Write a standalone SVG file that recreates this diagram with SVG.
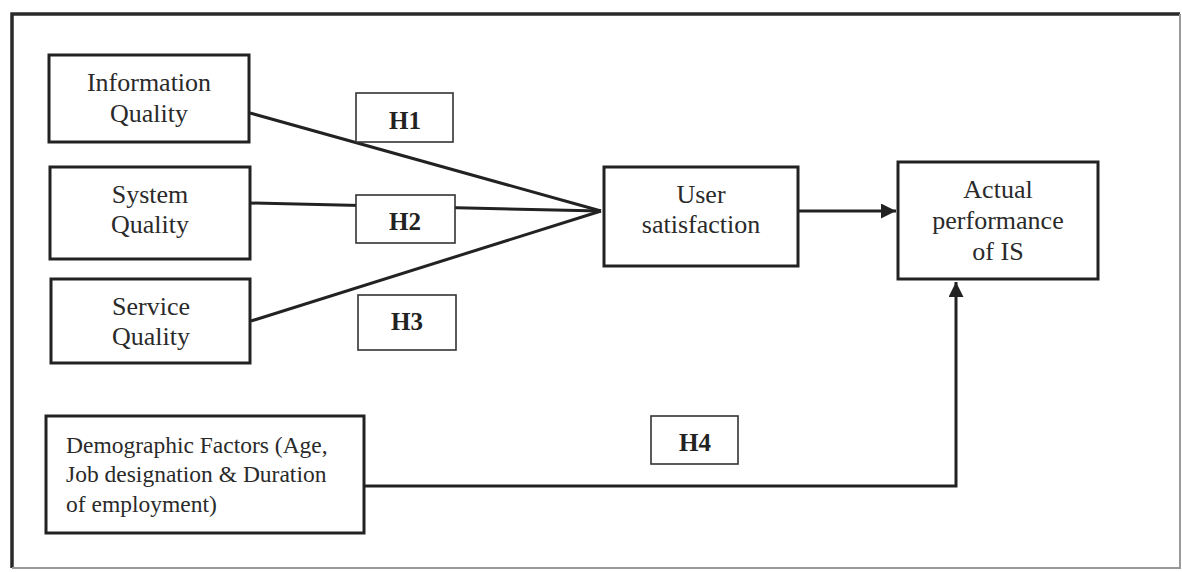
<svg xmlns="http://www.w3.org/2000/svg" width="1182" height="572" viewBox="0 0 1182 572">
<style>
.box{fill:#fff;stroke:#222;stroke-width:3}
.hbox{fill:#fff;stroke:#333;stroke-width:1.6}
.t{font-family:"Liberation Serif",serif;font-size:26px;fill:#2a2a2a;text-anchor:middle}
.tl{font-family:"Liberation Serif",serif;font-size:23.5px;fill:#2a2a2a}
.h{font-family:"Liberation Serif",serif;font-size:25px;font-weight:bold;fill:#222;text-anchor:middle}
.ln{fill:none;stroke:#222;stroke-width:3}
</style>
<defs>
<marker id="ah" viewBox="0 0 10 10" refX="10" refY="5" markerWidth="5" markerHeight="5" orient="auto" markerUnits="strokeWidth">
<path d="M0,0 L10,5 L0,10 z" fill="#222"/>
</marker>
</defs>
<rect x="0" y="0" width="1182" height="572" fill="#fff"/>
<g id="frame">
<path d="M12,568 V14 H1180" fill="none" stroke="#2a2a2a" stroke-width="3.5"/>
<path d="M1180,14 V568 H12" fill="none" stroke="#999" stroke-width="2"/>
</g>
<g id="connectors">
<line class="ln" x1="250" y1="113" x2="601" y2="211"/>
<line class="ln" x1="250" y1="203" x2="601" y2="211"/>
<line class="ln" x1="251" y1="321" x2="601" y2="211"/>
<line class="ln" x1="798" y1="211" x2="896" y2="211" marker-end="url(#ah)"/>
<polyline class="ln" points="364,486 956,486 956,282" marker-end="url(#ah)"/>
</g>
<g id="info-quality">
<rect class="box" x="49" y="55" width="200" height="87"/>
<text class="t" x="149" y="91">Information</text>
<text class="t" x="149" y="122">Quality</text>
</g>
<g id="system-quality">
<rect class="box" x="50" y="167" width="200" height="92"/>
<text class="t" x="150" y="203">System</text>
<text class="t" x="150" y="233">Quality</text>
</g>
<g id="service-quality">
<rect class="box" x="51" y="279" width="199" height="84"/>
<text class="t" x="151" y="315">Service</text>
<text class="t" x="151" y="345">Quality</text>
</g>
<g id="h1">
<rect class="hbox" x="356" y="93" width="97" height="49"/>
<text class="h" x="405" y="129">H1</text>
</g>
<g id="h2">
<rect class="hbox" x="356" y="195" width="99" height="48"/>
<text class="h" x="405" y="230">H2</text>
</g>
<g id="h3">
<rect class="hbox" x="358" y="295" width="98" height="55"/>
<text class="h" x="407" y="330">H3</text>
</g>
<g id="user-satisfaction">
<rect class="box" x="604" y="167" width="194" height="99"/>
<text class="t" x="701" y="203">User</text>
<text class="t" x="701" y="233">satisfaction</text>
</g>
<g id="actual-performance">
<rect class="box" x="898" y="162" width="200" height="117"/>
<text class="t" x="998" y="198">Actual</text>
<text class="t" x="998" y="229">performance</text>
<text class="t" x="998" y="260">of IS</text>
</g>
<g id="demographic">
<rect class="box" x="46" y="416" width="318" height="117"/>
<text class="tl" x="66" y="453">Demographic Factors (Age,</text>
<text class="tl" x="66" y="482">Job designation &amp; Duration</text>
<text class="tl" x="66" y="512">of employment)</text>
</g>
<g id="h4">
<rect class="hbox" x="651" y="416" width="87" height="48"/>
<text class="h" x="695" y="451">H4</text>
</g>
</svg>
